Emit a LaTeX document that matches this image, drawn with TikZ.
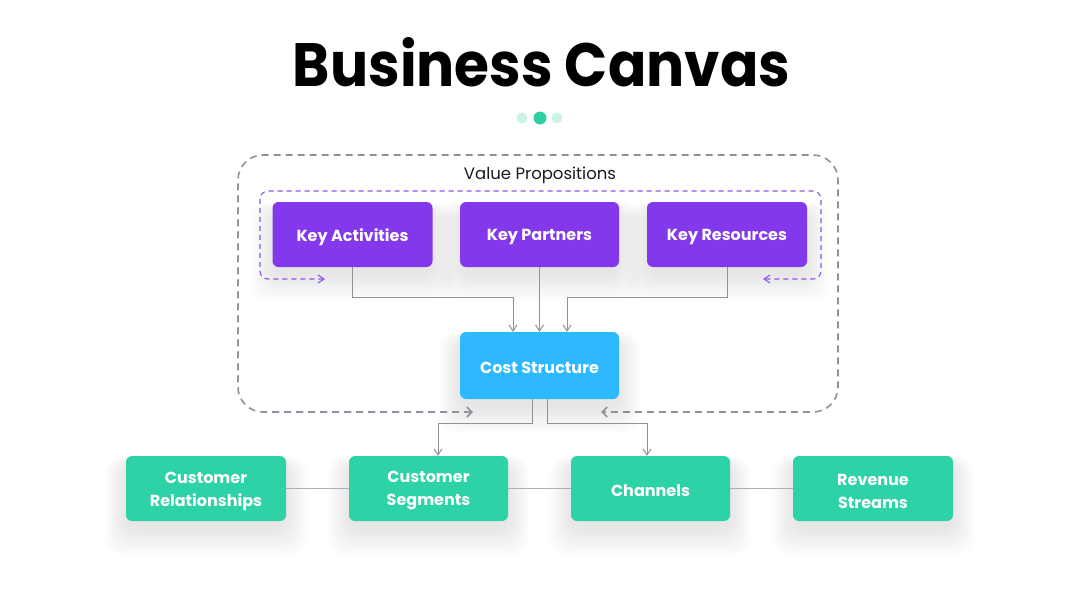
\documentclass[tikz,border=0pt]{standalone}
\usepackage{fontspec}
\setmainfont{Poppins}
\usetikzlibrary{arrows.meta,backgrounds}
\definecolor{kpurple}{HTML}{8338EC}
\definecolor{kblue}{HTML}{2EB9FF}
\definecolor{kgreen}{HTML}{2DD3A6}
\definecolor{kgray}{HTML}{8C939C}
\definecolor{klight}{HTML}{ABB0B7}
\definecolor{kdash}{HTML}{8A55E6}
\definecolor{kdotl}{HTML}{CBF3E8}
\definecolor{kdot}{HTML}{2ECFA3}
\definecolor{ktext}{HTML}{1A1A1A}
\newcommand\boxshadow[1]{%
  \foreach \i in {1,...,24}{%
    \fill[black, opacity=0.0045, rounded corners=16pt]
      ([shift={(-\i*0.9,-\i*0.3+8)}]#1.north west) rectangle
      ([shift={(\i*0.9,\i*1.1+8)}]#1.south east);
  }}
\tikzset{
  card/.style={rounded corners=6pt, inner sep=0pt, minimum height=65pt},
  ctext/.style={text=white, align=center, inner sep=0pt, yshift=-2.5pt,
    font=\bfseries\fontsize{16}{23}\selectfont},
  purplecard/.style={card, fill=kpurple, minimum width=160pt},
  bluecard/.style={card, fill=kblue, minimum width=159pt, minimum height=67pt},
  greencard/.style={card, fill=kgreen, minimum width=160pt},
  conn/.style={draw=kgray, line width=1pt, -{Straight Barb[length=6pt,width=8pt]}},
  link/.style={draw=klight, line width=1.2pt},
  outerframe/.style={draw=kgray, line width=1.6pt, dash pattern=on 7pt off 5pt,
    rounded corners=25pt, {Straight Barb[length=5pt,width=10pt]}-{Straight Barb[length=5pt,width=10pt]}},
  innerframe/.style={draw=kdash, line width=1.1pt, dash pattern=on 5pt off 4pt,
    rounded corners=8pt, {Straight Barb[length=6pt,width=8pt]}-{Straight Barb[length=6pt,width=8pt]}},
}
\begin{document}
\begin{tikzpicture}[x=1pt,y=-1pt]
\useasboundingbox (0,0) rectangle (1080,608);

% title
\node[anchor=base, inner sep=0pt] (title) at (541.5,86)
  {\resizebox{497pt}{49pt}{\bfseries Business Canvas}};
% dots
\fill[kdotl] (522,118) circle (5.5);
\fill[kdot] (540,118) circle (6.5);
\fill[kdotl] (557,118) circle (5.5);

% frames
\coordinate (oL) at (473,412);
\coordinate (oR) at (601,412);
\draw[outerframe] (oL) -- (238,412) -- (238,155) -- (838,155) -- (838,412) -- (oR);
\node[font=\fontsize{16.5}{18}\selectfont, text=ktext, inner sep=0pt] (vp) at (540,175) {Value Propositions};
\coordinate (iL) at (325,279);
\coordinate (iR) at (763,279);
\draw[innerframe] (iL) -- (260,279) -- (260,191) -- (821,191) -- (821,279) -- (iR);

% cards
\node[purplecard, label={[ctext]center:Key Activities}] (ka) at (352.5,234.5) {};
\node[purplecard, minimum width=159pt, label={[ctext]center:Key Partners}] (kp) at (539.5,234.5) {};
\node[purplecard, label={[ctext]center:Key Resources}] (kr) at (727,234.5) {};
\node[bluecard, label={[ctext]center:Cost Structure}] (cs) at (539.5,365.5) {};
\node[greencard, label={[ctext]center:Customer\\Relationships}] (cr) at (206,488.5) {};
\node[greencard, minimum width=159pt, label={[ctext]center:Customer\\Segments}] (sg) at (428.5,488.5) {};
\node[greencard, minimum width=159pt, label={[ctext]center:Channels}] (ch) at (650.5,488.5) {};
\node[greencard, label={[ctext]center:Revenue\\Streams}] (rs) at (873,488.5) {};

% connectors
\draw[conn] (ka.south) -- ++(0,30) -| ([xshift=-26.5pt]cs.north);
\draw[conn] (kp.south) -- (cs.north);
\draw[conn] (kr.south) -- ++(0,30) -| ([xshift=27.5pt]cs.north);
\draw[conn] ([xshift=-7.5pt]cs.south) -- ++(0,24) -| ([xshift=9.5pt]sg.north);
\draw[conn] ([xshift=7.5pt]cs.south) -- ++(0,24) -| ([xshift=-3.5pt]ch.north);
\draw[link] (cr.east) -- (sg.west);
\draw[link] (sg.east) -- (ch.west);
\draw[link] (ch.east) -- (rs.west);

\begin{scope}[on background layer]
  \fill[white] (0,0) rectangle (1080,608);
  \boxshadow{ka}\boxshadow{kp}\boxshadow{kr}\boxshadow{cs}
  \boxshadow{cr}\boxshadow{sg}\boxshadow{ch}\boxshadow{rs}
\end{scope}
\end{tikzpicture}
\end{document}
